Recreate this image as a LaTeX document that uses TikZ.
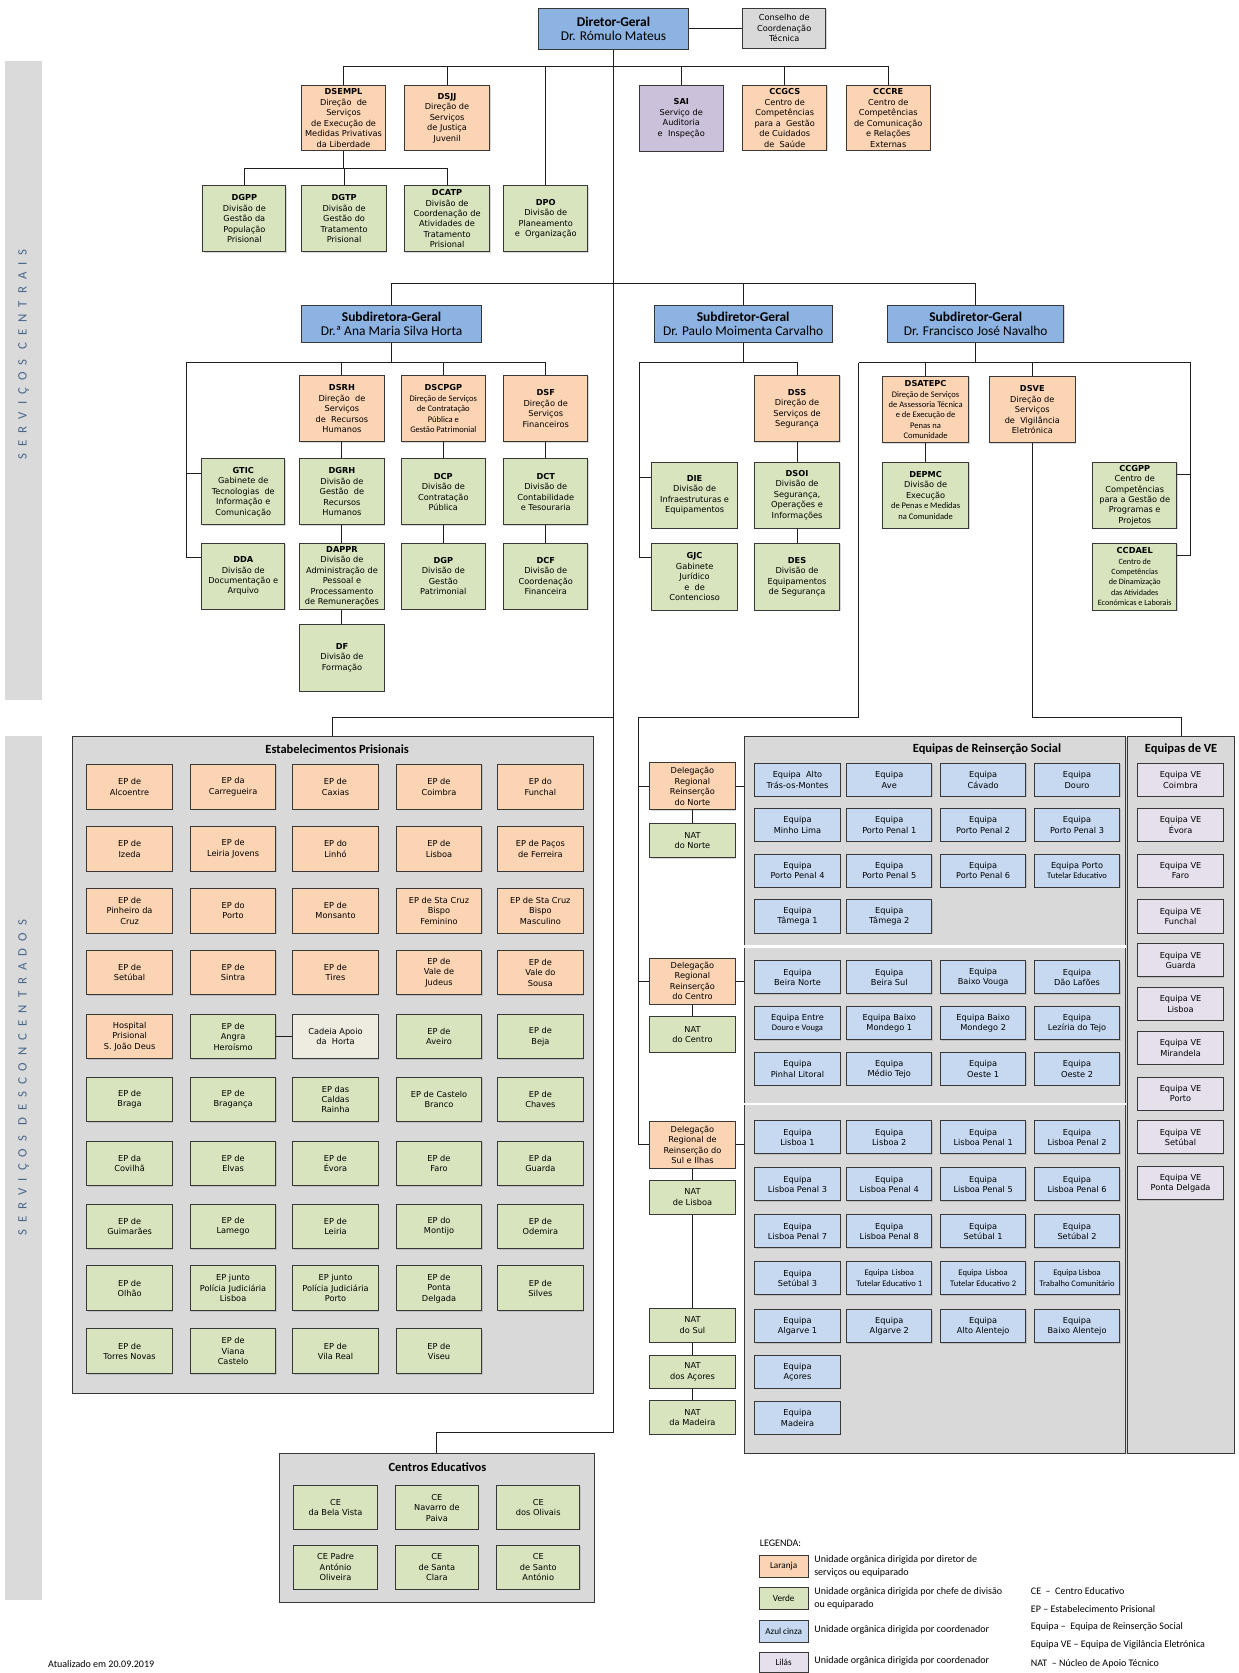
\documentclass[tikz,border=0pt]{standalone}
\usepackage{fontspec}
\setmainfont{DejaVu Sans}
\newfontfamily\calf{Carlito}
\newfontfamily\sidef[LetterSpace=55]{Carlito}
\usetikzlibrary{shadows}

\definecolor{cHdr}{HTML}{8DB3E2}
\definecolor{cOr}{HTML}{FBD4B4}
\definecolor{cGr}{HTML}{D7E4BD}
\definecolor{cSai}{HTML}{CCC1DA}
\definecolor{cVe}{HTML}{E6E0EC}
\definecolor{cBl}{HTML}{C6D9F1}
\definecolor{cGy}{HTML}{D9D9D9}
\definecolor{cBg}{HTML}{EEECE1}
\definecolor{cBand}{HTML}{DADADA}
\definecolor{cSide}{HTML}{46658A}

\newcommand\bx{\fontsize{7.7}{9.8}\selectfont}
\newcommand\cn{\calf\fontsize{8}{9.8}\selectfont}
\newcommand\cns{\calf\fontsize{7.6}{9.8}\selectfont}
\newcommand\hdrf{\calf\fontsize{12.6}{14}\selectfont}
\newcommand\ttlf{\calf\bfseries\fontsize{11.7}{13}\selectfont}
\newcommand\legf{\calf\fontsize{9.4}{12}\selectfont}
\newcommand\swf{\calf\fontsize{8.6}{10}\selectfont}

% box given by its corners (x1,y1) (x2,y2)
\newcommand\ob[7]{%
  \pgfmathsetmacro\obw{#4-#2}\pgfmathsetmacro\obh{#5-#3}%
  \pgfmathsetmacro\obx{(#2+#4)/2}\pgfmathsetmacro\oby{(#3+#5)/2}%
  \node[#6,minimum width=\obw pt,minimum height=\obh pt] (#1) at (\obx,\oby) {#7};}

\begin{document}
\begin{tikzpicture}[x=1pt,y=-1pt,
  ubox/.style={draw=black!78, line width=0.9pt, align=center, inner sep=0.5pt, font=\bx,
    drop shadow={shadow xshift=0.8pt, shadow yshift=-0.8pt, opacity=0.3}},
  uhdr/.style={ubox, fill=cHdr, font=\hdrf},
  uorg/.style={ubox, fill=cOr},
  ugrn/.style={ubox, fill=cGr},
  usai/.style={ubox, fill=cSai},
  ulilv/.style={ubox, fill=cVe},
  ublu/.style={ubox, fill=cBl},
  ugry/.style={ubox, fill=cGy},
  ubge/.style={ubox, fill=cBg},
  ugrp/.style={draw=black!78, line width=0.9pt, fill=cGy, inner sep=0pt,
    drop shadow={shadow xshift=0.8pt, shadow yshift=-0.8pt, opacity=0.3}},
  gtitle/.style={font=\ttlf, inner sep=0pt},
  epcell/.style={anchor=north west, minimum width=80pt, minimum height=42pt},
  rscell/.style={anchor=north west, minimum width=80pt, minimum height=31pt},
  cecell/.style={anchor=north west, minimum width=78pt, minimum height=41pt},
  swatch/.style={anchor=north west, minimum width=46pt, font=\swf},
  conn/.style={draw=black!88, line width=0.9pt},
  sidetxt/.style={rotate=90, text=cSide, font=\sidef\fontsize{12}{13}\selectfont},
  legtxt/.style={anchor=west, align=left, font=\legf, inner sep=0pt}]

\useasboundingbox (0,0) rectangle (1161,1568);
\fill[white] (0,0) rectangle (1161,1568);

% side bands
\fill[cBand] (5,57) rectangle (39,656);
\fill[cBand] (5,690) rectangle (39,1500);
\node[sidetxt] (scent) at (22,332) {SERVIÇOS CENTRAIS};
\node[sidetxt] (sdesc) at (22,1010) {SERVIÇOS DESCONCENTRADOS};

% group panels
\ob{ep}{68}{690}{556}{1306}{ugrp}{}
\ob{ce}{262}{1362}{557}{1502}{ugrp}{}
\ob{ers}{698}{690}{1055}{1362}{ugrp}{}
\ob{eve}{1057}{690}{1157}{1362}{ugrp}{}
\draw[white, line width=2.2pt] ([xshift=-1.5pt]ers.west |- 0,887) -- (ers.east |- 0,887);
\draw[white, line width=2.2pt] ([xshift=-1.5pt]ers.west |- 0,1035) -- (ers.east |- 0,1035);
\node[gtitle] (eptitle) at (316,702) {Estabelecimentos Prisionais};
\node[gtitle] (cetitle) at (410,1375) {Centros Educativos};
\node[gtitle] (erstitle) at (925,702) {Equipas de Reinserção Social};
\node[gtitle] (evetitle) at (1107,702) {Equipas de VE};

% direction
\ob{dg}{505}{8}{645}{46}{uhdr}{\textbf{Diretor-Geral}\\Dr. Rómulo Mateus}
\ob{cct}{696}{8}{774}{45}{ugry}{Conselho de\\Coordenação\\Técnica}

\ob{dsempl}{283}{80}{361}{141}{uorg}{\textbf{DSEMPL}\\Direção~ de\\Serviços\\de Execução de\\Medidas Privativas\\da Liberdade}
\ob{dsjj}{379}{80}{459}{141}{uorg}{\textbf{DSJJ}\\Direção de\\Serviços\\de Justiça\\Juvenil}
\ob{sai}{599}{80}{678}{142}{usai}{\textbf{SAI}\\Serviço de\\Auditoria\\e~ Inspeção}
\ob{ccgcs}{696}{80}{775}{141}{uorg}{\textbf{CCGCS}\\Centro de\\Competências\\para a~ Gestão\\de Cuidados\\de~ Saúde}
\ob{cccre}{793}{80}{872}{141}{uorg}{\textbf{CCCRE}\\Centro de\\Competências\\de Comunicação\\e Relações\\Externas}

\ob{dgpp}{190}{174}{268}{236}{ugrn}{\textbf{DGPP}\\Divisão de\\Gestão da\\População\\Prisional}
\ob{dgtp}{283}{174}{362}{236}{ugrn}{\textbf{DGTP}\\Divisão de\\Gestão do\\Tratamento\\Prisional}
\ob{dcatp}{379}{174}{459}{236}{ugrn}{\textbf{DCATP}\\Divisão de\\Coordenação de\\Atividades de\\Tratamento\\Prisional}
\ob{dpo}{472}{174}{551}{236}{ugrn}{\textbf{DPO}\\Divisão de\\Planeamento\\e~ Organização}

% deputy directors
\ob{sga}{283}{286}{451}{321}{uhdr}{\textbf{Subdiretora-Geral}\\Dr.ª Ana Maria Silva Horta}
\ob{sgp}{613}{286}{780}{321}{uhdr}{\textbf{Subdiretor-Geral}\\Dr. Paulo Moimenta Carvalho}
\ob{sgf}{832}{286}{997}{321}{uhdr}{\textbf{Subdiretor-Geral}\\Dr. Francisco José Navalho}

\ob{dsrh}{281}{352}{360}{414}{uorg}{\textbf{DSRH}\\Direção~ de\\Serviços\\de~ Recursos\\Humanos}
\ob{dscpgp}{376}{352}{455}{414}{uorg}{\textbf{DSCPGP}\\{\cn Direção de Serviços}\\{\cn de Contratação}\\{\cn Pública e}\\{\cn Gestão Patrimonial}}
\ob{dsf}{472}{352}{551}{414}{uorg}{\textbf{DSF}\\Direção de\\Serviços\\Financeiros}
\ob{gtic}{189}{430}{267}{492}{ugrn}{\textbf{GTIC}\\Gabinete de\\Tecnologias~ de\\Informação e\\Comunicação}
\ob{dgrh}{281}{430}{360}{492}{ugrn}{\textbf{DGRH}\\Divisão de\\Gestão~ de\\Recursos\\Humanos}
\ob{dcp}{376}{430}{455}{492}{ugrn}{\textbf{DCP}\\Divisão de\\Contratação\\Pública}
\ob{dct}{472}{430}{551}{492}{ugrn}{\textbf{DCT}\\Divisão de\\Contabilidade\\e Tesouraria}
\ob{dda}{189}{509}{267}{571}{ugrn}{\textbf{DDA}\\Divisão de\\Documentação e\\Arquivo}
\ob{dappr}{281}{509}{360}{571}{ugrn}{\textbf{DAPPR}\\Divisão de\\Administração de\\Pessoal e\\Processamento\\de Remunerações}
\ob{dgp}{376}{509}{455}{571}{ugrn}{\textbf{DGP}\\Divisão de\\Gestão\\Patrimonial}
\ob{dcf}{472}{509}{551}{571}{ugrn}{\textbf{DCF}\\Divisão de\\Coordenação\\Financeira}
\ob{df}{281}{585}{360}{648}{ugrn}{\textbf{DF}\\Divisão de\\Formação}

\ob{dss}{707}{352}{787}{414}{uorg}{\textbf{DSS}\\Direção de\\Serviços de\\Segurança}
\ob{die}{611}{433}{691}{495}{ugrn}{\textbf{DIE}\\Divisão de\\Infraestruturas e\\Equipamentos}
\ob{dsoi}{707}{433}{787}{495}{ugrn}{\textbf{DSOI}\\Divisão de\\Segurança,\\Operações e\\Informações}
\ob{gjc}{611}{509}{691}{572}{ugrn}{\textbf{GJC}\\Gabinete\\Jurídico\\e~ de\\Contencioso}
\ob{des}{707}{509}{787}{572}{ugrn}{\textbf{DES}\\Divisão de\\Equipamentos\\de Segurança}

\ob{dsatepc}{827}{353}{908}{415}{uorg}{\textbf{DSATEPC}\\{\cn Direção de Serviços}\\{\cn de Assessoria Técnica}\\{\cn e de Execução de}\\{\cn Penas na}\\{\cn Comunidade}}
\ob{dsve}{927}{353}{1008}{415}{uorg}{\textbf{DSVE}\\Direção de\\Serviços\\de~ Vigilância\\Eletrónica}
\ob{depmc}{827}{433}{908}{495}{ugrn}{\textbf{DEPMC}\\Divisão de\\Execução\\{\cn de Penas e Medidas}\\{\cn na Comunidade}}
\ob{ccgpp}{1024}{433}{1103}{495}{ugrn}{\textbf{CCGPP}\\Centro de\\Competências\\para a Gestão de\\Programas e\\Projetos}
\ob{ccdael}{1024}{509}{1103}{572}{ugrn}{\textbf{CCDAEL}\\{\cns Centro de}\\{\cns Competências}\\{\cns de Dinamização}\\{\cns das Atividades}\\{\cns Económicas e Laborais}}

% prisons
\node[uorg,epcell] (e11) at (81,716) {EP de\\Alcoentre};
\node[uorg,epcell] (e12) at (178,716) {EP da\\Carregueira};
\node[uorg,epcell] (e13) at (274,716) {EP de\\Caxias};
\node[uorg,epcell] (e14) at (371,716) {EP de\\Coimbra};
\node[uorg,epcell] (e15) at (466,716) {EP do\\Funchal};
\node[uorg,epcell] (e21) at (81,774) {EP de\\Izeda};
\node[uorg,epcell] (e22) at (178,774) {EP de\\Leiria Jovens};
\node[uorg,epcell] (e23) at (274,774) {EP do\\Linhó};
\node[uorg,epcell] (e24) at (371,774) {EP de\\Lisboa};
\node[uorg,epcell] (e25) at (466,774) {EP de Paços\\de Ferreira};
\node[uorg,epcell] (e31) at (81,832) {EP de\\Pinheiro da\\Cruz};
\node[uorg,epcell] (e32) at (178,832) {EP do\\Porto};
\node[uorg,epcell] (e33) at (274,832) {EP de\\Monsanto};
\node[uorg,epcell] (e34) at (371,832) {EP de Sta Cruz\\Bispo\\Feminino};
\node[uorg,epcell] (e35) at (466,832) {EP de Sta Cruz\\Bispo\\Masculino};
\node[uorg,epcell] (e41) at (81,890) {EP de\\Setúbal};
\node[uorg,epcell] (e42) at (178,890) {EP de\\Sintra};
\node[uorg,epcell] (e43) at (274,890) {EP de\\Tires};
\node[uorg,epcell] (e44) at (371,890) {EP de\\Vale de\\Judeus};
\node[uorg,epcell] (e45) at (466,890) {EP de\\Vale do\\Sousa};
\node[uorg,epcell] (e51) at (81,950) {Hospital\\Prisional\\S. João Deus};
\node[ugrn,epcell] (e52) at (178,950) {EP de\\Angra\\Heroísmo};
\node[ubge,epcell] (e53) at (274,950) {Cadeia Apoio\\da~ Horta};
\node[ugrn,epcell] (e54) at (371,950) {EP de\\Aveiro};
\node[ugrn,epcell] (e55) at (466,950) {EP de\\Beja};
\node[ugrn,epcell] (e61) at (81,1009) {EP de\\Braga};
\node[ugrn,epcell] (e62) at (178,1009) {EP de\\Bragança};
\node[ugrn,epcell] (e63) at (274,1009) {EP das\\Caldas\\Rainha};
\node[ugrn,epcell] (e64) at (371,1009) {EP de Castelo\\Branco};
\node[ugrn,epcell] (e65) at (466,1009) {EP de\\Chaves};
\node[ugrn,epcell] (e71) at (81,1069) {EP da\\Covilhã};
\node[ugrn,epcell] (e72) at (178,1069) {EP de\\Elvas};
\node[ugrn,epcell] (e73) at (274,1069) {EP de\\Évora};
\node[ugrn,epcell] (e74) at (371,1069) {EP de\\Faro};
\node[ugrn,epcell] (e75) at (466,1069) {EP da\\Guarda};
\node[ugrn,epcell] (e81) at (81,1128) {EP de\\Guimarães};
\node[ugrn,epcell] (e82) at (178,1128) {EP de\\Lamego};
\node[ugrn,epcell] (e83) at (274,1128) {EP de\\Leiria};
\node[ugrn,epcell] (e84) at (371,1128) {EP do\\Montijo};
\node[ugrn,epcell] (e85) at (466,1128) {EP de\\Odemira};
\node[ugrn,epcell] (e91) at (81,1186) {EP de\\Olhão};
\node[ugrn,epcell] (e92) at (178,1186) {EP junto\\Polícia Judiciária\\Lisboa};
\node[ugrn,epcell] (e93) at (274,1186) {EP junto\\Polícia Judiciária\\Porto};
\node[ugrn,epcell] (e94) at (371,1186) {EP de\\Ponta\\Delgada};
\node[ugrn,epcell] (e95) at (466,1186) {EP de\\Silves};
\node[ugrn,epcell] (e101) at (81,1245) {EP de\\Torres Novas};
\node[ugrn,epcell] (e102) at (178,1245) {EP de\\Viana\\Castelo};
\node[ugrn,epcell] (e103) at (274,1245) {EP de\\Vila Real};
\node[ugrn,epcell] (e104) at (371,1245) {EP de\\Viseu};

% educational centres
\node[ugrn,cecell] (c11) at (275,1392) {CE\\da Bela Vista};
\node[ugrn,cecell] (c12) at (370,1392) {CE\\Navarro de\\Paiva};
\node[ugrn,cecell] (c13) at (465,1392) {CE\\dos Olivais};
\node[ugrn,cecell] (c21) at (275,1448) {CE Padre\\António\\Oliveira};
\node[ugrn,cecell] (c22) at (370,1448) {CE\\de Santa\\Clara};
\node[ugrn,cecell] (c23) at (465,1448) {CE\\de Santo\\António};

% regional delegations and support units
\ob{dln}{609}{715}{689}{759}{uorg}{Delegação\\Regional\\Reinserção\\do Norte}
\ob{natn}{609}{772}{689}{804}{ugrn}{NAT\\do Norte}
\ob{dlc}{609}{898}{689}{941}{uorg}{Delegação\\Regional\\Reinserção\\do Centro}
\ob{natc}{609}{953}{689}{986}{ugrn}{NAT\\do Centro}
\ob{dls}{609}{1051}{689}{1095}{uorg}{Delegação\\Regional de\\Reinserção do\\Sul e Ilhas}
\ob{natl}{609}{1106}{689}{1138}{ugrn}{NAT\\de Lisboa}
\ob{nats}{609}{1226}{689}{1258}{ugrn}{NAT\\do Sul}
\ob{nata}{609}{1270}{689}{1301}{ugrn}{NAT\\dos Açores}
\ob{natm}{609}{1313}{689}{1344}{ugrn}{NAT\\da Madeira}

% social reinsertion teams
\node[ublu,rscell] (r11) at (707,715) {Equipa~ Alto\\Trás-os-Montes};
\node[ublu,rscell] (r12) at (793,715) {Equipa\\Ave};
\node[ublu,rscell] (r13) at (881,715) {Equipa\\Cávado};
\node[ublu,rscell] (r14) at (969,715) {Equipa\\Douro};
\node[ublu,rscell] (r21) at (707,757) {Equipa\\Minho Lima};
\node[ublu,rscell] (r22) at (793,757) {Equipa\\Porto Penal 1};
\node[ublu,rscell] (r23) at (881,757) {Equipa\\Porto Penal 2};
\node[ublu,rscell] (r24) at (969,757) {Equipa\\Porto Penal 3};
\node[ublu,rscell] (r31) at (707,800) {Equipa\\Porto Penal 4};
\node[ublu,rscell] (r32) at (793,800) {Equipa\\Porto Penal 5};
\node[ublu,rscell] (r33) at (881,800) {Equipa\\Porto Penal 6};
\node[ublu,rscell] (r34) at (969,800) {Equipa Porto\\{\cn Tutelar Educativo}};
\node[ublu,rscell] (r41) at (707,843) {Equipa\\Tâmega 1};
\node[ublu,rscell] (r42) at (793,843) {Equipa\\Tâmega 2};

\node[ublu,rscell] (s11) at (707,900) {Equipa\\Beira Norte};
\node[ublu,rscell] (s12) at (793,900) {Equipa\\Beira Sul};
\node[ublu,rscell] (s13) at (881,900) {Equipa\\Baixo Vouga};
\node[ublu,rscell] (s14) at (969,900) {Equipa\\Dão Lafões};
\node[ublu,rscell] (s21) at (707,943) {Equipa Entre\\{\cn Douro e Vouga}};
\node[ublu,rscell] (s22) at (793,943) {Equipa Baixo\\Mondego 1};
\node[ublu,rscell] (s23) at (881,943) {Equipa Baixo\\Mondego 2};
\node[ublu,rscell] (s24) at (969,943) {Equipa\\Lezíria do Tejo};
\node[ublu,rscell] (s31) at (707,986) {Equipa\\Pinhal Litoral};
\node[ublu,rscell] (s32) at (793,986) {Equipa\\Médio Tejo};
\node[ublu,rscell] (s33) at (881,986) {Equipa\\Oeste 1};
\node[ublu,rscell] (s34) at (969,986) {Equipa\\Oeste 2};

\node[ublu,rscell] (t11) at (707,1050) {Equipa\\Lisboa 1};
\node[ublu,rscell] (t12) at (793,1050) {Equipa\\Lisboa 2};
\node[ublu,rscell] (t13) at (881,1050) {Equipa\\Lisboa Penal 1};
\node[ublu,rscell] (t14) at (969,1050) {Equipa\\Lisboa Penal 2};
\node[ublu,rscell] (t21) at (707,1094) {Equipa\\Lisboa Penal 3};
\node[ublu,rscell] (t22) at (793,1094) {Equipa\\Lisboa Penal 4};
\node[ublu,rscell] (t23) at (881,1094) {Equipa\\Lisboa Penal 5};
\node[ublu,rscell] (t24) at (969,1094) {Equipa\\Lisboa Penal 6};
\node[ublu,rscell] (t31) at (707,1138) {Equipa\\Lisboa Penal 7};
\node[ublu,rscell] (t32) at (793,1138) {Equipa\\Lisboa Penal 8};
\node[ublu,rscell] (t33) at (881,1138) {Equipa\\Setúbal 1};
\node[ublu,rscell] (t34) at (969,1138) {Equipa\\Setúbal 2};
\node[ublu,rscell] (t41) at (707,1182) {Equipa\\Setúbal 3};
\node[ublu,rscell] (t42) at (793,1182) {{\cn Equipa~ Lisboa}\\{\cn Tutelar Educativo 1}};
\node[ublu,rscell] (t43) at (881,1182) {{\cn Equipa~ Lisboa}\\{\cn Tutelar Educativo 2}};
\node[ublu,rscell] (t44) at (969,1182) {{\cn Equipa Lisboa}\\{\cn Trabalho Comunitário}};
\node[ublu,rscell] (t51) at (707,1227) {Equipa\\Algarve 1};
\node[ublu,rscell] (t52) at (793,1227) {Equipa\\Algarve 2};
\node[ublu,rscell] (t53) at (881,1227) {Equipa\\Alto Alentejo};
\node[ublu,rscell] (t54) at (969,1227) {Equipa\\Baixo Alentejo};
\node[ublu,rscell] (t61) at (707,1270) {Equipa\\Açores};
\node[ublu,rscell] (t71) at (707,1313) {Equipa\\Madeira};

% electronic surveillance teams
\node[ulilv,rscell] (v1) at (1066,715) {Equipa VE\\Coimbra};
\node[ulilv,rscell] (v2) at (1066,757) {Equipa VE\\Évora};
\node[ulilv,rscell] (v3) at (1066,800) {Equipa VE\\Faro};
\node[ulilv,rscell] (v4) at (1066,843) {Equipa VE\\Funchal};
\node[ulilv,rscell] (v5) at (1066,884) {Equipa VE\\Guarda};
\node[ulilv,rscell] (v6) at (1066,925) {Equipa VE\\Lisboa};
\node[ulilv,rscell] (v7) at (1066,966) {Equipa VE\\Mirandela};
\node[ulilv,rscell] (v8) at (1066,1009) {Equipa VE\\Porto};
\node[ulilv,rscell] (v9) at (1066,1050) {Equipa VE\\Setúbal};
\node[ulilv,rscell] (v10) at (1066,1093) {Equipa VE\\Ponta Delgada};

% connectors: top level
\coordinate (b1) at (575,62);
\coordinate (b2) at (322,158);
\draw[conn] (dg.east) -- (dg.east -| cct.west);
\draw[conn] (dsempl.north) -- (dsempl.north |- b1) -- (cccre.north |- b1) -- (cccre.north);
\foreach \n in {dsjj,dpo,sai,ccgcs} \draw[conn] (\n.north) -- (\n.north |- b1);
\draw[conn] (dsempl.south) -- (dsempl.south |- b2);
\draw[conn] (dgpp.north) -- (dgpp.north |- b2) -- (dcatp.north |- b2) -- (dcatp.north);
\draw[conn] (dgtp.north) -- (dgtp.north |- b2);

% main spine
\coordinate (m1) at (575,266);
\coordinate (m2) at (575,672);
\coordinate (m3) at (575,1343);
\draw[conn] (dg.south) -- (m3) -| (ce.north);
\draw[conn] (m2) -| (ep.north);
\draw[conn] (sga.north) -- (sga.north |- m1) -- (sgf.north |- m1) -- (sgf.north);
\draw[conn] (sgp.north) -- (sgp.north |- m1);

% first deputy
\coordinate (al) at (175,340);
\draw[conn] (sga.south) -- (sga.south |- al);
\draw[conn] (dsf.north) -- (dsf.north |- al) -- (al) |- ([yshift=-14pt]dda.north west);
\draw[conn] (al) |- ([yshift=-14pt]gtic.north west);
\draw[conn] (dsrh.north) -- (dsrh.north |- al);
\draw[conn] (dscpgp.north) -- (dscpgp.north |- al);
\draw[conn] (dsrh) -- (dgrh);
\draw[conn] (dgrh) -- (dappr);
\draw[conn] (dappr) -- (df);
\draw[conn] (dscpgp) -- (dcp);
\draw[conn] (dcp) -- (dgp);
\draw[conn] (dsf) -- (dct);
\draw[conn] (dct) -- (dcf);

% second deputy
\coordinate (pl) at (599,340);
\draw[conn] (sgp.south) -- (sgp.south |- pl);
\draw[conn] (dss.north) -- (dss.north |- pl) -- (pl) |- ([yshift=-14pt]gjc.north west);
\draw[conn] (pl) |- ([yshift=-15pt]die.north west);
\draw[conn] (dss) -- (dsoi);
\draw[conn] (dsoi) -- (des);

% third deputy
\coordinate (fl) at (805,340);
\coordinate (fr) at (1116,340);
\coordinate (j1) at (805,672);
\coordinate (j2) at (598,672);
\draw[conn] (sgf.south) -- (sgf.south |- fl);
\draw[conn] (fl) -- (fr) |- ([yshift=-12pt]ccdael.north east);
\draw[conn] (fr) |- ([yshift=-12pt]ccgpp.north east);
\draw[conn] (dsatepc.north) -- (dsatepc.north |- fl);
\draw[conn] (dsve.north) -- (dsve.north |- fl);
\draw[conn] (dsatepc) -- (depmc);
\draw[conn] (fl) -- (j1) -- (j2) |- (dls.west);
\draw[conn] (j2) |- (dln.west);
\draw[conn] (j2) |- (dlc.west);
\draw[conn] (dsve.south) -- (dsve.south |- j1) -| (eve.north);

% delegations
\foreach \d in {dln,dlc,dls} \draw[conn] (\d.east) -- (\d.east -| ers.west);
\draw[conn] (dln) -- (natn);
\draw[conn] (dlc) -- (natc);
\draw[conn] (dls) -- (natl);
\draw[conn] (natl) -- (nats);
\draw[conn] (nats) -- (nata);
\draw[conn] (nata) -- (natm);
\draw[conn] (e52) -- (e53);

% legend
\node[legtxt] (legt) at (712,1446) {LEGENDA:};
\node[uorg, swatch, minimum height=21pt] (lg1) at (711,1457) {Laranja};
\node[ugrn, swatch, minimum height=21pt] (lg2) at (711,1487) {Verde};
\node[ublu, swatch, minimum height=21pt] (lg3) at (711,1518) {Azul cinza};
\node[ulilv, swatch, minimum height=19pt] (lg4) at (711,1548) {Lilás};
\node[legtxt] (lt1) at (763,1468) {Unidade orgânica dirigida por diretor de\\serviços ou equiparado};
\node[legtxt] (lt2) at (763,1498) {Unidade orgânica dirigida por chefe de divisão\\ou equiparado};
\node[legtxt] (lt3) at (763,1528) {Unidade orgânica dirigida por coordenador};
\node[legtxt] (lt4) at (763,1557) {Unidade orgânica dirigida por coordenador};
\node[legtxt] (la1) at (966,1491) {CE~ –~ Centro Educativo};
\node[legtxt] (la2) at (966,1508) {EP – Estabelecimento Prisional};
\node[legtxt] (la3) at (966,1525) {Equipa –~ Equipa de Reinserção Social};
\node[legtxt] (la4) at (966,1542) {Equipa VE – Equipa de Vigilância Eletrónica};
\node[legtxt] (la5) at (966,1559) {NAT~ – Núcleo de Apoio Técnico};

\node[anchor=north west, font=\legf, inner sep=0pt] (upd) at (45,1556) {Atualizado em 20.09.2019};
\end{tikzpicture}
\end{document}
